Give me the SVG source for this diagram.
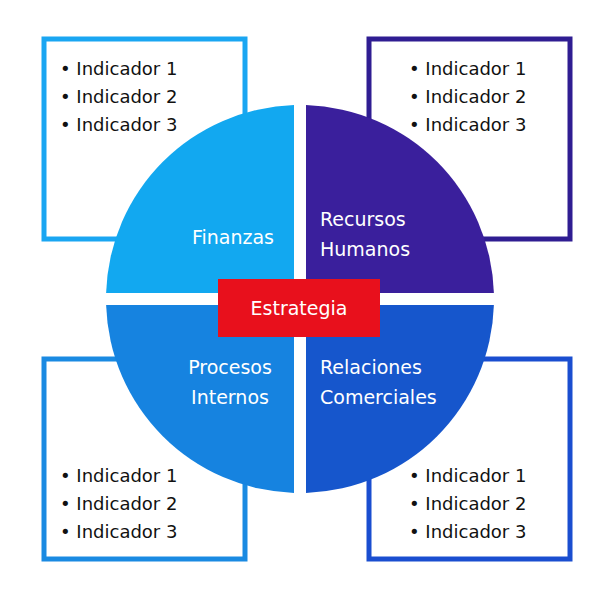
<svg xmlns="http://www.w3.org/2000/svg" width="600" height="600" viewBox="0 0 600 600">
<style>
.box{fill:#fff;stroke-width:5}
.t{font-family:"DejaVu Sans",Verdana,sans-serif;font-size:18px;fill:#111}
.w{font-family:"DejaVu Sans",Verdana,sans-serif;font-size:19px;fill:#fff}
</style>
<rect width="600" height="600" fill="#fff"/>
<g id="box-tl"><rect class="box" x="44" y="39" width="201" height="200" stroke="#1aa6f2"/>
<text class="t" x="60" y="75">• Indicador 1</text><text class="t" x="60" y="103">• Indicador 2</text><text class="t" x="60" y="131">• Indicador 3</text></g>
<g id="box-tr"><rect class="box" x="369" y="39" width="201" height="200" stroke="#2f1d92"/>
<text class="t" x="409" y="75">• Indicador 1</text><text class="t" x="409" y="103">• Indicador 2</text><text class="t" x="409" y="131">• Indicador 3</text></g>
<g id="box-bl"><rect class="box" x="44" y="359" width="201" height="200" stroke="#1a8ae2"/>
<text class="t" x="60" y="482">• Indicador 1</text><text class="t" x="60" y="510">• Indicador 2</text><text class="t" x="60" y="538">• Indicador 3</text></g>
<g id="box-br"><rect class="box" x="369" y="359" width="201" height="200" stroke="#1a4ed0"/>
<text class="t" x="409" y="482">• Indicador 1</text><text class="t" x="409" y="510">• Indicador 2</text><text class="t" x="409" y="538">• Indicador 3</text></g>
<g id="finanzas"><path d="M294 293 H106.1 A194 194 0 0 1 294 105.1 Z" fill="#12a8f0"/>
<text class="w" x="233" y="244" text-anchor="middle">Finanzas</text></g>
<g id="rrhh"><path d="M306 293 V105.1 A194 194 0 0 1 493.9 293 Z" fill="#3a1f9c"/>
<text class="w" x="320" y="226">Recursos</text><text class="w" x="320" y="256">Humanos</text></g>
<g id="procesos"><path d="M294 305 V492.9 A194 194 0 0 1 106.1 305 Z" fill="#1683e0"/>
<text class="w" x="230" y="374" text-anchor="middle">Procesos</text><text class="w" x="230" y="404" text-anchor="middle">Internos</text></g>
<g id="comerciales"><path d="M306 305 H493.9 A194 194 0 0 1 306 492.9 Z" fill="#1656cc"/>
<text class="w" x="320" y="374">Relaciones</text><text class="w" x="320" y="404">Comerciales</text></g>
<g id="estrategia"><rect x="218" y="279" width="162" height="58" fill="#e8101c"/>
<text class="w" x="299" y="315" text-anchor="middle" font-size="21">Estrategia</text></g>
<g id="connectors"/>
</svg>
